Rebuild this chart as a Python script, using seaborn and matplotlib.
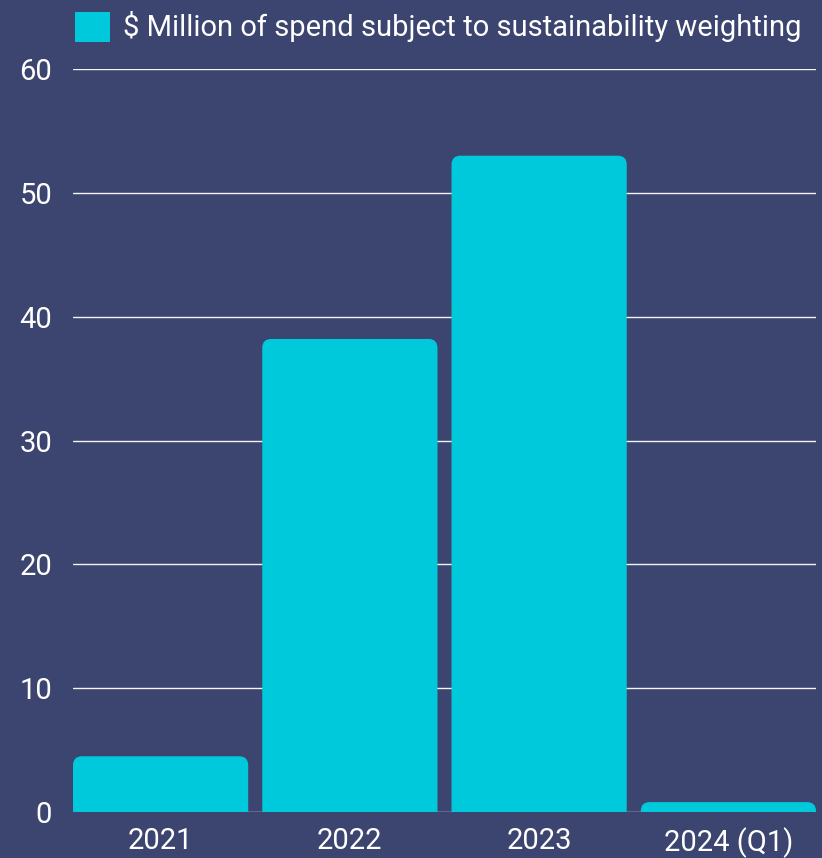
import matplotlib
matplotlib.use("Agg")
import matplotlib.pyplot as plt
import seaborn as sns
import pandas as pd
from matplotlib.path import Path
from matplotlib.patches import PathPatch, Patch

categories = ["2021", "2022", "2023", "2024 (Q1)"]
values = [4.5, 38.2, 53.0, 0.8]
series_name = "$ Million of spend subject to sustainability weighting"
yticks = [0, 10, 20, 30, 40, 50, 60]

BG = "#3C4470"
BAR = "#00C9DB"
FG = "#FFFFFF"

df = pd.DataFrame({"year": categories, "value": values})

sns.set_theme(style="dark")
plt.rcParams["font.family"] = ["Roboto", "DejaVu Sans"]

fig = plt.figure(figsize=(8.22, 8.58), dpi=100, facecolor=BG)
ax = fig.add_axes([73 / 822, 1 - 812 / 858, (816 - 73) / 822, (812 - 69) / 858])
ax.set_facecolor(BG)

sns.barplot(data=df, x="year", y="value", color=BAR, width=175 / 189,
            saturation=1, ax=ax, zorder=3)

ax.set_xlim(-87.5 / 189, 3 + 87.5 / 189)
ax.set_ylim(0, 60)
ax.set_yticks(yticks)

fig.canvas.draw()
xr = (816 - 73) / (ax.get_xlim()[1] - ax.get_xlim()[0])
yr = (812 - 69) / 60.0
rad_px = 9
for p in list(ax.patches):
    x0 = p.get_x()
    w = p.get_width()
    h = p.get_height()
    x1 = x0 + w
    rx = rad_px / xr
    ry = min(rad_px / yr, h)
    verts = [(x0, 0), (x0, h - ry), (x0, h), (x0 + rx, h), (x1 - rx, h),
             (x1, h), (x1, h - ry), (x1, 0), (x0, 0)]
    codes = [Path.MOVETO, Path.LINETO, Path.CURVE3, Path.CURVE3, Path.LINETO,
             Path.CURVE3, Path.CURVE3, Path.LINETO, Path.CLOSEPOLY]
    pp = PathPatch(Path(verts, codes), facecolor=BAR, edgecolor="none", zorder=3)
    p.remove()
    ax.add_patch(pp)

ax.grid(axis="y", color="#F4F4F8", linewidth=1.0, zorder=1)
ax.grid(axis="x", visible=False)
for s in ax.spines.values():
    s.set_visible(False)

ax.set_xlabel("")
ax.set_ylabel("")
ax.tick_params(axis="y", colors=FG, labelsize=21, pad=15, length=0)
ax.tick_params(axis="x", colors=FG, labelsize=21, pad=11, length=0)

handle = Patch(facecolor=BAR, edgecolor="none")
fig.legend([handle], [series_name], loc="center left",
           bbox_to_anchor=(75 / 822, 1 - 27 / 858), frameon=False,
           fontsize=21, labelcolor=FG, borderpad=0, borderaxespad=0,
           handlelength=1.2, handleheight=1.2, handletextpad=0.45)

fig.savefig("out.png", dpi=100, facecolor=BG)
